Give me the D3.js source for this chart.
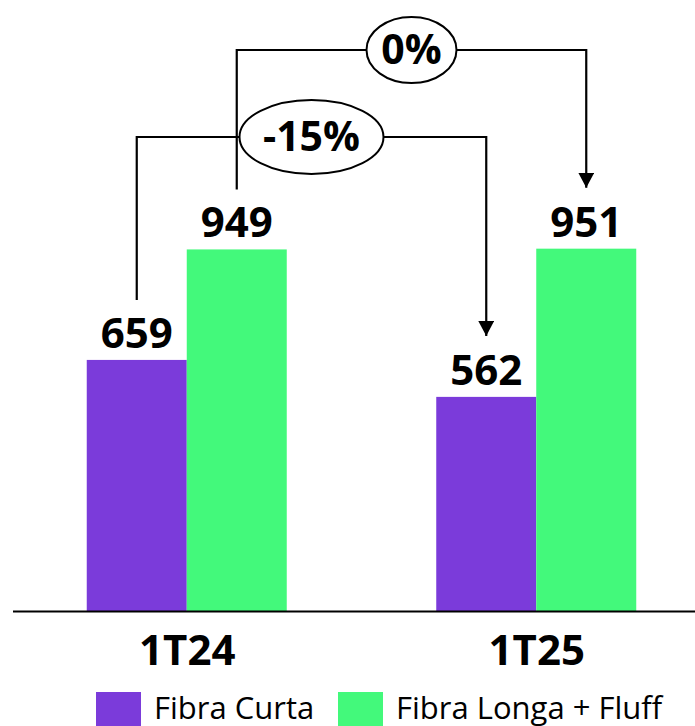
<!DOCTYPE html>
<html lang="pt">
<head>
<meta charset="utf-8">
<title>Fibra Curta x Fibra Longa</title>
<script src="https://d3js.org/d3.v7.min.js"></script>
<style>
body { margin: 0; background: #fff; }
text { font-family: "Open Sans", "Noto Sans", sans-serif; fill: #000; }
.value { font-size: 42px; font-weight: 700; }
.cat text { font-size: 42px; font-weight: 700; }
.change text { font-size: 41px; font-weight: 700; }
.legend text { font-size: 31px; }
</style>
</head>
<body>
<div id="chart"></div>
<script>

// data
var categories = ["1T24", "1T25"];
var series = ["Fibra Curta", "Fibra Longa + Fluff"];
var fibraCurta = [659, 562];
var fibraLonga = [949, 951];
var changeLabels = ["-15%", "0%"];
var colors = ["#7b3bda", "#43f97b"];

var values = [fibraCurta, fibraLonga];

var width = 695, height = 726;

var svg = d3.select("#chart").append("svg")
    .attr("width", width)
    .attr("height", height);

var x = d3.scalePoint().domain(categories).range([12, 711]).padding(0.5);
var xSub = d3.scaleBand().domain(series).range([-100, 100]);
var y = d3.scaleLinear().domain([0, 1000]).range([611, 230]);

// bars
var groups = svg.selectAll(".group")
    .data(categories)
    .enter().append("g")
        .attr("class", "group")
        .attr("transform", function(d) { return "translate(" + x(d) + ",0)"; });

groups.selectAll("rect")
    .data(function(d, i) { return series.map(function(s, j) { return {s: s, j: j, v: values[j][i]}; }); })
    .enter().append("rect")
        .attr("x", function(d) { return xSub(d.s); })
        .attr("width", xSub.bandwidth())
        .attr("y", function(d) { return y(d.v); })
        .attr("height", function(d) { return y(0) - y(d.v); })
        .attr("fill", function(d) { return colors[d.j]; });

groups.selectAll(".value")
    .data(function(d, i) { return series.map(function(s, j) { return {s: s, v: values[j][i]}; }); })
    .enter().append("text")
        .attr("class", "value")
        .attr("text-anchor", "middle")
        .attr("x", function(d) { return xSub(d.s) + xSub.bandwidth() / 2; })
        .attr("y", function(d) { return y(d.v) - 12; })
        .text(function(d) { return d.v; });

// axis
var axis = svg.append("g")
    .attr("class", "cat")
    .attr("transform", "translate(0," + y(0) + ")")
    .call(d3.axisBottom(x).tickSize(0).tickSizeOuter(0).tickPadding(24));
axis.select(".domain").attr("stroke", "#000").attr("stroke-width", 2.2)
    .attr("d", "M13,0.5H" + width);
axis.selectAll(".tick text").attr("fill", "#000");
axis.attr("font-family", null).attr("font-size", null);

// change arrows
svg.append("defs").append("marker")
    .attr("id", "arrow")
    .attr("viewBox", "0 0 16 15")
    .attr("refX", 8).attr("refY", 15)
    .attr("markerWidth", 16).attr("markerHeight", 15)
    .attr("markerUnits", "userSpaceOnUse")
    .attr("orient", "0")
    .append("path")
        .attr("d", "M0,0L16,0L8,15Z")
        .attr("fill", "#000");

var levels = [137, 50];
var ellipse = [{rx: 72, ry: 37}, {rx: 45, ry: 33}];

series.forEach(function(s, j) {
    var x0 = x(categories[0]) + xSub(s) + xSub.bandwidth() / 2;
    var x1 = x(categories[1]) + xSub(s) + xSub.bandwidth() / 2;
    var y0 = y(values[j][0]) - 12 - 48;
    var y1 = y(values[j][1]) - 12 - 48;
    var g = svg.append("g").attr("class", "change");
    g.append("path")
        .attr("d", "M" + x0 + "," + y0 + "V" + levels[j] + "H" + x1 + "V" + (y1 - 1))
        .attr("fill", "none")
        .attr("stroke", "#000")
        .attr("stroke-width", 2.2)
        .attr("marker-end", "url(#arrow)");
    var cx = (x0 + x1) / 2;
    g.append("ellipse")
        .attr("cx", cx).attr("cy", levels[j])
        .attr("rx", ellipse[j].rx).attr("ry", ellipse[j].ry)
        .attr("fill", "#fff")
        .attr("stroke", "#000")
        .attr("stroke-width", 2);
    g.append("text")
        .attr("x", cx).attr("y", levels[j] + 14)
        .attr("text-anchor", "middle")
        .text(changeLabels[j]);
});

// legend
var legendX = [96, 338];
var legend = svg.append("g").attr("class", "legend");
var item = legend.selectAll("g")
    .data(series)
    .enter().append("g")
        .attr("transform", function(d, i) { return "translate(" + legendX[i] + ",692)"; });
item.append("rect")
    .attr("width", 45).attr("height", 40)
    .attr("fill", function(d, i) { return colors[i]; });
item.append("text")
    .attr("x", 58).attr("y", 27)
    .text(function(d) { return d; });

</script>
</body>
</html>
